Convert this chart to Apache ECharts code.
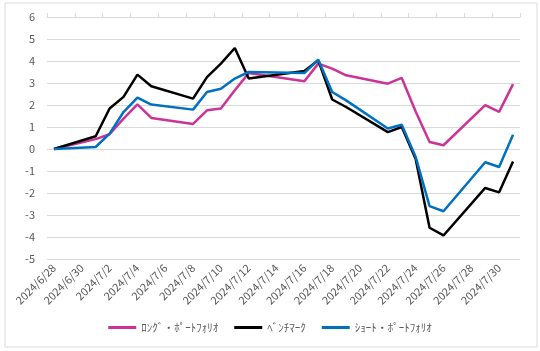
<!DOCTYPE html>
<html>
<head>
<meta charset="utf-8">
<script src="https://cdn.jsdelivr.net/npm/echarts@6/dist/echarts.min.js"></script>
<style>
  body { margin: 0; background: #fff; }
  #main { width: 540px; height: 351px; }
</style>
</head>
<body>
<div id="main"></div>
<script>
// every calendar day on the axis
const days = [
  '2024/6/28', '2024/6/29', '2024/6/30', '2024/7/1', '2024/7/2', '2024/7/3', '2024/7/4',
  '2024/7/5', '2024/7/6', '2024/7/7', '2024/7/8', '2024/7/9', '2024/7/10', '2024/7/11',
  '2024/7/12', '2024/7/13', '2024/7/14', '2024/7/15', '2024/7/16', '2024/7/17', '2024/7/18',
  '2024/7/19', '2024/7/20', '2024/7/21', '2024/7/22', '2024/7/23', '2024/7/24', '2024/7/25',
  '2024/7/26', '2024/7/27', '2024/7/28', '2024/7/29', '2024/7/30', '2024/7/31'
]
// trading days that carry values
const tradeDays = [
  '2024/6/28', '2024/7/1', '2024/7/2', '2024/7/3', '2024/7/4', '2024/7/5', '2024/7/8',
  '2024/7/9', '2024/7/10', '2024/7/11', '2024/7/12', '2024/7/16', '2024/7/17', '2024/7/18',
  '2024/7/19', '2024/7/22', '2024/7/23', '2024/7/24', '2024/7/25', '2024/7/26', '2024/7/29',
  '2024/7/30', '2024/7/31'
]
const longPf = [0, 0.45, 0.67, 1.38, 2.03, 1.41, 1.14, 1.76, 1.84, 2.67, 3.45, 3.08, 3.88, 3.65, 3.35, 2.97, 3.23, 1.7, 0.32, 0.17, 1.99, 1.69, 2.95]
const bench = [0, 0.58, 1.84, 2.37, 3.38, 2.85, 2.29, 3.27, 3.88, 4.59, 3.2, 3.55, 4.03, 2.25, 1.91, 0.77, 1.0, -0.45, -3.58, -3.93, -1.77, -1.97, -0.57]
const shortPf = [0, 0.09, 0.7, 1.68, 2.34, 2.02, 1.79, 2.59, 2.74, 3.2, 3.5, 3.45, 4.06, 2.59, 2.21, 0.93, 1.1, -0.36, -2.6, -2.83, -0.6, -0.82, 0.65]
const names = ['ﾛﾝｸﾞ・ﾎﾟｰﾄﾌｫﾘｵ', 'ﾍﾞﾝﾁﾏｰｸ', 'ｼｮｰﾄ・ﾎﾟｰﾄﾌｫﾘｵ']
const colors = ['#cc3399', '#000000', '#0070c0']

function toDaily (vals) {
  return days.map(d => {
    const i = tradeDays.indexOf(d)
    return i < 0 ? null : vals[i]
  })
}

const font = 'Noto Sans CJK JP'
const txt = '#595959'
const myChart = echarts.init(document.getElementById('main'))

const option = {
  animation: false,
  textStyle: { fontFamily: font },
  graphic: [{
    type: 'rect',
    shape: { x: 5, y: 3, width: 532, height: 344 },
    style: { fill: 'none', stroke: '#d9d9d9', lineWidth: 1 },
    silent: true
  }],
  grid: { left: 47, right: 20, top: 17, bottom: 92 },
  legend: {
    bottom: 13,
    left: 'center',
    icon: 'rect',
    itemWidth: 28,
    itemHeight: 3,
    itemGap: 16,
    textStyle: { fontSize: 11, color: txt, fontFamily: font },
    data: names
  },
  xAxis: [
    {
      type: 'category',
      data: days,
      boundaryGap: true,
      axisLine: { show: false },
      axisTick: { show: false },
      axisLabel: { interval: 1, rotate: 45, fontSize: 11, color: txt, margin: 7 },
      splitLine: { show: false }
    },
    {
      type: 'category',
      data: days,
      boundaryGap: true,
      axisLine: { show: true, onZero: true, lineStyle: { color: '#d9d9d9' } },
      axisTick: { show: true, interval: 1, length: 4, lineStyle: { color: '#d9d9d9' } },
      axisLabel: { show: false },
      splitLine: { show: false }
    }
  ],
  yAxis: {
    type: 'value',
    min: -5,
    max: 6,
    interval: 1,
    axisLine: { show: false },
    axisTick: { show: false },
    axisLabel: { fontSize: 11, color: txt, margin: 12 },
    splitLine: { lineStyle: { color: '#d9d9d9' } }
  },
  series: [longPf, bench, shortPf].map((vals, i) => ({
    name: names[i],
    type: 'line',
    xAxisIndex: 0,
    data: toDaily(vals),
    connectNulls: true,
    symbol: 'none',
    lineStyle: { color: colors[i], width: 2.5 },
    itemStyle: { color: colors[i] }
  }))
}
myChart.setOption(option)
</script>
</body>
</html>
